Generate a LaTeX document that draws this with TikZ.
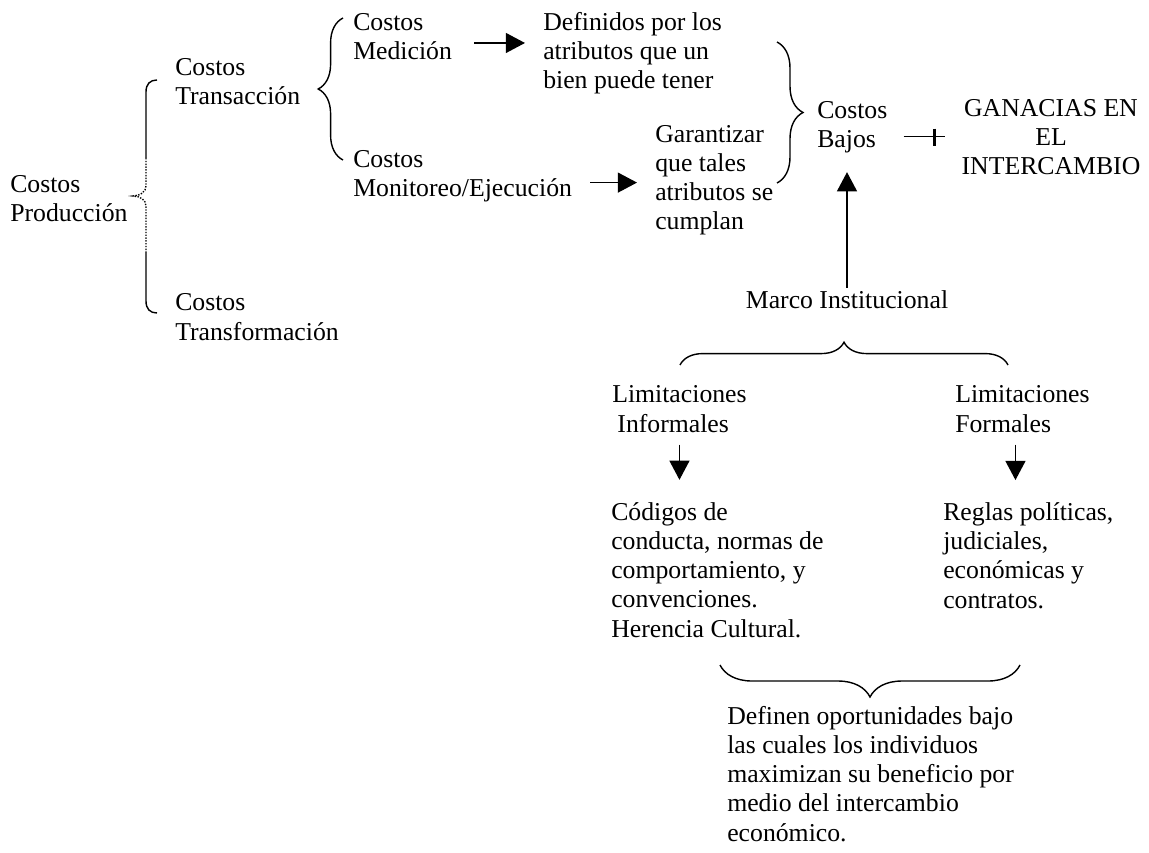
\documentclass[tikz,border=0pt]{standalone}
\usepackage{fontspec}
\setmainfont{Liberation Serif}
\usetikzlibrary{arrows.meta, positioning, calc, decorations.pathreplacing}

\begin{document}
\begin{tikzpicture}[x=0.025cm, y=-0.025cm, >={Triangle[length=0.48cm, width=0.5cm]},
  txt/.style={anchor=base west, align=left, inner sep=0pt, font=\fontsize{18.3}{20.8}\selectfont},
  arr/.style={->, line width=1pt},
  brc/.style={decorate, decoration={brace, amplitude=#1}, line width=1pt}]

\useasboundingbox (0,0) rectangle (1149,853);
\fill[white] (0,0) rectangle (1149,853);

% Cost tree (nodes placed at the baseline of their last line)
\node[txt] (prod) at (10,222) {Costos\\Producción};
\node[txt] (tran) at (175,105) {Costos\\Transacción};
\node[txt] (tfor) at (175,340) {Costos\\Transformación};
\node[txt] (med) at (353,60) {Costos\\Medición};
\node[txt] (mon) at (353,197) {Costos\\Monitoreo/Ejecución};
\node[txt] (def) at (543,89) {Definidos por los\\atributos que un\\bien puede tener};
\node[txt] (gar) at (655,230) {Garantizar\\que tales\\atributos se\\cumplan};
\node[txt] (baj) at (817,148) {Costos\\Bajos};
\node[txt, align=center, anchor=base] (gan) at (1051,175) {GANACIAS EN\\EL\\INTERCAMBIO};

% Braces of the cost tree
\draw[line width=1pt] (157,80) .. controls (150,80) and (146,84) .. (146,92) -- (146,158);
\draw[line width=1pt, densely dotted] (146,158) -- (146,186)
  .. controls (146,192) and (140,196) .. (133,196)
  .. controls (140,196) and (146,200) .. (146,206) -- (146,253);
\draw[line width=1pt] (146,253) -- (146,301) .. controls (146,309) and (150,313) .. (157,313);
\draw[brc=0.62cm] (343,160) -- (343,18);
\draw[brc=0.65cm] (777,42) -- (777,183);

% Arrows of the cost tree
\draw[arr, shorten <=0.55cm, shorten >=0.45cm] ($(med.east)+(0,6)$) -- ($(med.east -| def.west)+(0,6)$);
\draw[arr, shorten <=0.45cm, shorten >=0.45cm] ($(mon.east)+(0,6)$) -- ($(mon.east -| gar.west)+(0,6)$);
\draw[line width=1pt, shorten <=0.4cm, shorten >=0.4cm] ($(baj.east)+(0,9)$) -- ($(baj.east -| gan.west)+(0,9)$);
\draw[line width=2.5pt] ($(baj.east)+(47,1)$) -- ++(0,17);

% Institutional frame
\node[txt, anchor=base] (mar) at (847,308) {Marco Institucional};
\node[txt] (inf) at (612,432) {Limitaciones\\\hspace*{0.2em}Informales};
\node[txt] (for) at (955,432) {Limitaciones\\Formales};
\node[txt] (cod) at (611,637) {Códigos de\\conducta, normas de\\comportamiento, y\\convenciones.\\Herencia Cultural.};
\node[txt] (reg) at (943,608) {Reglas políticas,\\judiciales,\\económicas y\\contratos.};
\node[txt] (dfn) at (727,841) {Definen oportunidades bajo\\las cuales los individuos\\maximizan su beneficio por\\medio del intercambio\\económico.};

\draw[arr, shorten <=0.05cm, shorten >=0.46cm] (mar.north) -- (mar.north |- baj.south);
\draw[brc=0.57cm] (680,365) -- (1008,365);
\draw[arr, shorten <=0.3cm, shorten >=0.55cm] (inf.south) -- (inf.south |- cod.north);
\draw[arr, shorten <=0.3cm, shorten >=0.55cm] ($(for.south)+(-7,0)$) -- ($(for.south |- reg.north)+(-7,0)$);
\draw[brc=0.8cm] (1020,665) -- (720,665);

\end{tikzpicture}
\end{document}
